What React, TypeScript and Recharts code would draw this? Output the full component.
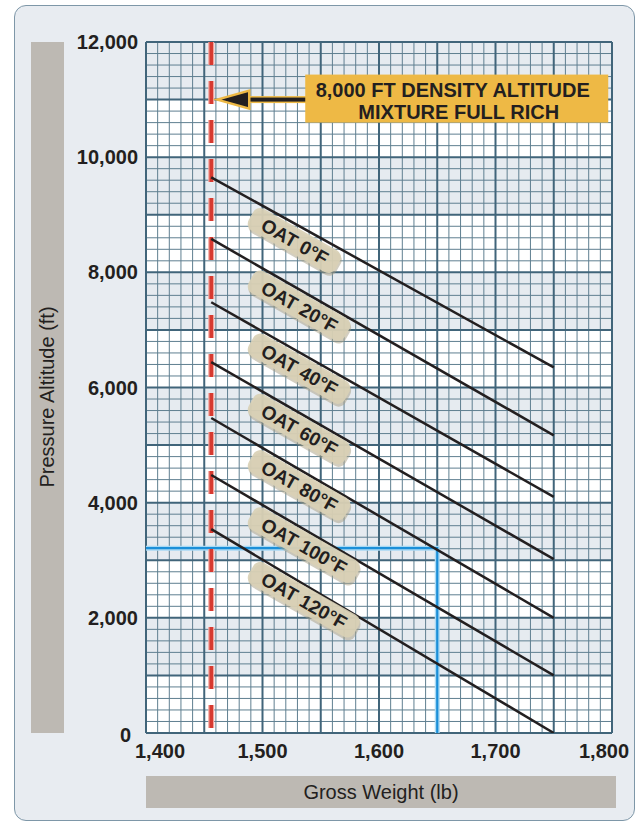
// Density-altitude style chart: pressure altitude vs gross weight for several OATs.
import { Line, LineChart, ReferenceArea, ReferenceDot, ReferenceLine, XAxis, YAxis } from "recharts";

const weightTicks = [1400, 1500, 1600, 1700, 1800];
const altitudeTicks = [0, 2000, 4000, 6000, 8000, 10000, 12000];

const oatLabels = ["OAT 0°F", "OAT 20°F", "OAT 40°F", "OAT 60°F", "OAT 80°F", "OAT 100°F", "OAT 120°F"];
const oatStartWeight = 1456;
const oatEndWeight = 1750;
const oatStartAltitude = [9650, 8580, 7480, 6440, 5470, 4480, 3540];
const oatEndAltitude = [6350, 5170, 4100, 3020, 2000, 1000, 0];
const tagWeight = 1500;

const shadedBands = [
  [1000, 2000],
  [3000, 4000],
  [5000, 6000],
  [7000, 8000],
  [9000, 10000],
  [11000, 12000],
];

const mixtureWeight = 1456;
const calloutAltitude = 11000;
const calloutLines = ["8,000 FT DENSITY ALTITUDE", "MIXTURE FULL RICH"];

const exampleWeight = 1650;
const exampleAltitude = 3210;

// grid: 10 lb / 200 ft minor, 50 lb / 1000 ft major
const gridWeights = Array.from({ length: 41 }, (_, i) => 1400 + i * 10);
const gridAltitudes = Array.from({ length: 61 }, (_, i) => i * 200);

const FONT = "'Liberation Sans', Arial, Helvetica, sans-serif";
const INK = "#231f20";

const oatSeries = oatLabels.map((label, i) => ({
  label,
  data: [
    { w: oatStartWeight, alt: oatStartAltitude[i] },
    { w: oatEndWeight, alt: oatEndAltitude[i] },
  ],
}));

const mixtureData = [
  { w: mixtureWeight, alt: 12000 },
  { w: mixtureWeight, alt: 0 },
];

const exampleData = [
  { w: 1400, alt: exampleAltitude },
  { w: exampleWeight, alt: exampleAltitude },
  { w: exampleWeight, alt: 0 },
];

function tagAltitude(i: number) {
  const t = (tagWeight - oatStartWeight) / (oatEndWeight - oatStartWeight);
  return oatStartAltitude[i] + (oatEndAltitude[i] - oatStartAltitude[i]) * t;
}

// tag hangs under its line, left end near the anchor point
function OatTag({ cx, cy, text }: { cx?: number; cy?: number; text: string }) {
  const w = text.length * 10.8 + 24;
  const x0 = -5;
  return (
    <g transform={`translate(${cx},${cy}) rotate(29.5) translate(0,14)`}>
      <rect x={x0 + 2} y={-10} width={w} height={25} rx={8} fill="#a89e82" opacity={0.5} />
      <rect x={x0} y={-12} width={w} height={25} rx={8} fill="#d9d0b5" fillOpacity={0.92} />
      <text x={x0 + w / 2 + 1} y={1.5} textAnchor="middle" dominantBaseline="central" fontFamily={FONT} fontWeight="bold" fontSize={19} fill={INK}>
        {text}
      </text>
    </g>
  );
}

function Callout({ cx, cy }: { cx?: number; cy?: number }) {
  const x = cx ?? 0;
  const y = cy ?? 0;
  const boxX = x + 94;
  const boxW = 303;
  const tipX = x + 6;
  const baseX = x + 38;
  return (
    <g>
      <rect x={baseX - 2} y={y - 3.5} width={boxX - baseX + 4} height={7} fill="#eeb945" />
      <rect x={baseX - 2} y={y - 2} width={boxX - baseX + 4} height={4} fill={INK} />
      <polygon points={`${tipX},${y} ${baseX},${y - 9} ${baseX},${y + 9}`} fill={INK} stroke="#eeb945" strokeWidth={2.5} strokeLinejoin="miter" />
      <rect x={boxX} y={y - 25} width={boxW} height={48} fill="#eeb945" />
      <text x={boxX + boxW / 2 - 4} y={y - 10} textAnchor="middle" dominantBaseline="central" fontFamily={FONT} fontWeight="bold" fontSize={20} fill={INK}>
        {calloutLines[0]}
      </text>
      <text x={boxX + boxW / 2 + 2} y={y + 12} textAnchor="middle" dominantBaseline="central" fontFamily={FONT} fontWeight="bold" fontSize={20} fill={INK}>
        {calloutLines[1]}
      </text>
    </g>
  );
}

function YTick(props: any) {
  const v = props.payload?.value;
  const isZero = v === 0;
  return (
    <text x={isZero ? 131 : 138} y={props.y + (isZero ? 2 : 0)} textAnchor="end" dominantBaseline="central" fontFamily={FONT} fontWeight="bold" fontSize={20} fill={INK}>
      {v.toLocaleString("en-US")}
    </text>
  );
}

function XTick(props: any) {
  const v = props.payload?.value;
  const shift = v === 1400 ? 14 : v === 1800 ? -8 : 0;
  return (
    <text x={props.x + shift} y={751} textAnchor="middle" dominantBaseline="central" fontFamily={FONT} fontWeight="bold" fontSize={20} fill={INK}>
      {v.toLocaleString("en-US")}
    </text>
  );
}

export default function App() {
  return (
    <div style={{ position: "absolute", left: 0, top: 0, width: 641, height: 824, background: "#ffffff" }}>
      <div
        style={{
          position: "absolute",
          left: 14,
          top: 5,
          width: 619,
          height: 814,
          background: "#e8ecf1",
          border: "1.5px solid #7e97a8",
          borderRadius: 12,
        }}
      />
      <div style={{ position: "absolute", left: 31, top: 42, width: 33, height: 691, background: "#bdb9b3" }}>
        <div
          style={{
            position: "absolute",
            left: 16,
            top: 355,
            transform: "translate(-50%, -50%) rotate(-90deg)",
            whiteSpace: "nowrap",
            fontFamily: FONT,
            fontSize: 20,
            color: INK,
          }}
        >
          Pressure Altitude (ft)
        </div>
      </div>
      <div
        style={{
          position: "absolute",
          left: 146,
          top: 776,
          width: 470,
          height: 32,
          background: "#bdb9b3",
          display: "flex",
          alignItems: "center",
          justifyContent: "center",
          fontFamily: FONT,
          fontSize: 20,
          color: INK,
        }}
      >
        Gross Weight (lb)
      </div>
      <div style={{ position: "absolute", left: 0, top: 0 }}>
        <LineChart width={641} height={824} margin={{ top: 42, right: 29, bottom: 61, left: 86 }}>
          <XAxis
            dataKey="w"
            type="number"
            domain={[1400, 1800]}
            ticks={weightTicks}
            interval={0}
            height={30}
            axisLine={false}
            tickLine={false}
            tick={XTick}
            allowDataOverflow
          />
          <YAxis
            dataKey="alt"
            type="number"
            domain={[0, 12000]}
            ticks={altitudeTicks}
            interval={0}
            width={60}
            axisLine={false}
            tickLine={false}
            tick={YTick}
            allowDataOverflow
          />
          <ReferenceArea x1={1400} x2={1800} y1={0} y2={12000} fill="#ffffff" fillOpacity={1} stroke="none" />
          {shadedBands.map(([a, b]) => (
            <ReferenceArea key={`band-${a}`} x1={1400} x2={1800} y1={a} y2={b} fill="#e6ebf0" fillOpacity={1} stroke="none" />
          ))}
          {gridWeights
            .filter((w) => w % 50 !== 0)
            .map((w) => (
              <ReferenceLine key={`vx-${w}`} x={w} stroke="#5f7f90" strokeWidth={1} />
            ))}
          {gridAltitudes
            .filter((a) => a % 1000 !== 0)
            .map((a) => (
              <ReferenceLine key={`hy-${a}`} y={a} stroke="#5f7f90" strokeWidth={1} />
            ))}
          {gridWeights
            .filter((w) => w % 50 === 0)
            .map((w) => (
              <ReferenceLine key={`VX-${w}`} x={w} stroke="#41657a" strokeWidth={2} />
            ))}
          {gridAltitudes
            .filter((a) => a % 1000 === 0)
            .map((a) => (
              <ReferenceLine key={`HY-${a}`} y={a} stroke="#41657a" strokeWidth={2} />
            ))}
          <Line data={exampleData} dataKey="alt" type="linear" stroke="#a9d9f4" strokeWidth={5} dot={false} activeDot={false} isAnimationActive={false} />
          <Line data={exampleData} dataKey="alt" type="linear" stroke="#1b8fd8" strokeWidth={2.2} dot={false} activeDot={false} isAnimationActive={false} />
          <Line data={mixtureData} dataKey="alt" type="linear" stroke="#f3a29b" strokeWidth={6} strokeDasharray="23 16" dot={false} activeDot={false} isAnimationActive={false} />
          <Line data={mixtureData} dataKey="alt" type="linear" stroke="#d63a30" strokeWidth={3.5} strokeDasharray="23 16" dot={false} activeDot={false} isAnimationActive={false} />
          {oatSeries.map((s) => (
            <Line key={s.label} data={s.data} dataKey="alt" type="linear" stroke={INK} strokeWidth={2.5} dot={false} activeDot={false} isAnimationActive={false} />
          ))}
          {oatSeries.map((s, i) => (
            <ReferenceDot key={`tag-${s.label}`} x={tagWeight} y={tagAltitude(i)} r={0} shape={(p: any) => <OatTag cx={p.cx} cy={p.cy} text={s.label} />} />
          ))}
          <ReferenceDot x={mixtureWeight} y={calloutAltitude} r={0} shape={(p: any) => <Callout cx={p.cx} cy={p.cy} />} />
        </LineChart>
      </div>
    </div>
  );
}
